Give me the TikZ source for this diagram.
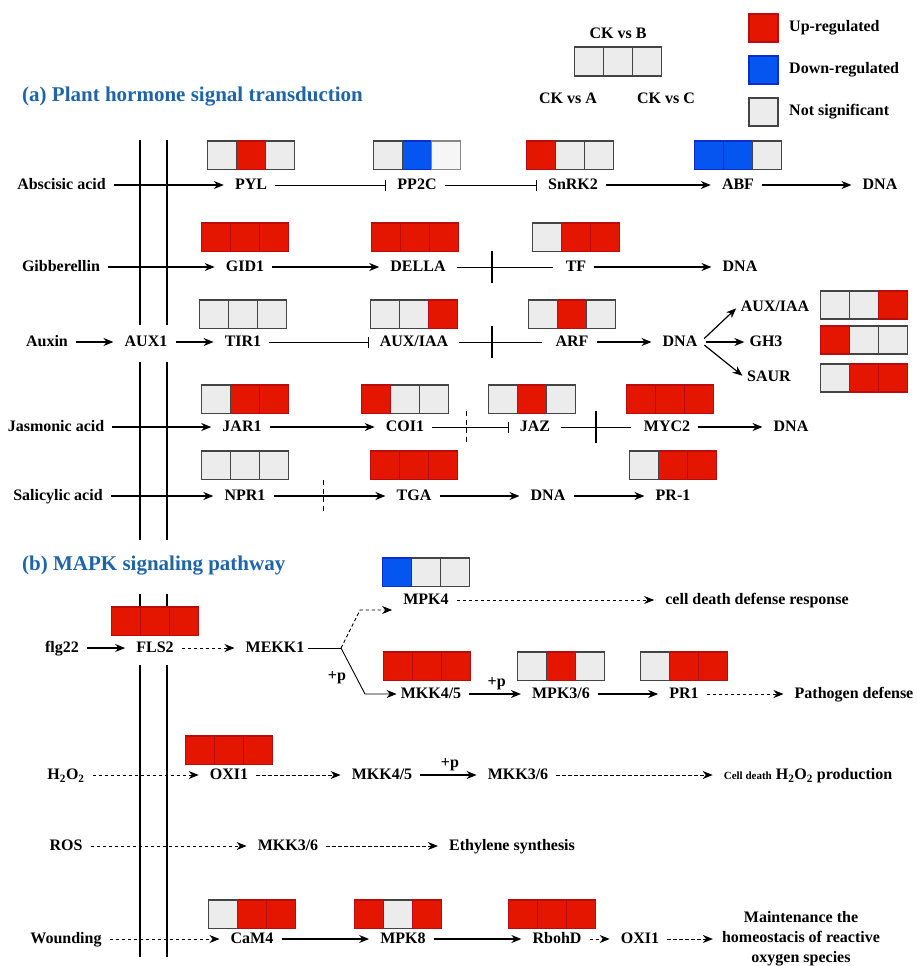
\documentclass[tikz,border=0pt]{standalone}
\usepackage{xcolor}
\usepackage{fontspec}
\setmainfont{Liberation Serif}
\usepackage{tikz}
\usetikzlibrary{arrows,arrows.meta,positioning}

\definecolor{upfill}{RGB}{228,22,0}
\definecolor{upedge}{RGB}{185,12,12}
\definecolor{downfill}{RGB}{5,85,240}
\definecolor{downedge}{RGB}{10,45,205}
\definecolor{nsfill}{RGB}{236,236,236}
\definecolor{nsedge}{RGB}{68,68,68}
\definecolor{palefill}{RGB}{246,246,246}
\definecolor{paleedge}{RGB}{135,135,135}
\definecolor{titleblue}{RGB}{32,100,168}

% three expression cells: name, placement, left, middle, right
\newcommand{\expbox}[5]{%
  \node[cell=#4, #2] (#1-2) {};
  \node[cell=#3, left=0pt of #1-2] (#1-1) {};
  \node[cell=#5, right=0pt of #1-2] (#1-3) {};}

\begin{document}
\begin{tikzpicture}[x=1pt, y=-1pt, >={Stealth[length=10pt,width=8pt]},
    cell/.style={draw=#1edge, fill=#1fill, line width=1.6pt, minimum width=29pt, minimum height=28.5pt, inner sep=0pt, outer sep=0pt}]
                    % Define styles
                    \tikzstyle{gene} = [font=\fontsize{16}{19}\selectfont\bfseries, inner sep=3pt, text height=12pt, text depth=3pt]
                    \tikzstyle{lab} = [font=\fontsize{16}{19}\selectfont\bfseries, inner sep=1pt]
                    \tikzstyle{title} = [anchor=west, inner sep=0pt, font=\fontsize{21}{25}\selectfont\bfseries, text=titleblue]
                    \tikzstyle{line} = [draw, ->, line width=1.2pt, shorten <=5pt, shorten >=8pt]
                    \tikzstyle{dline} = [line, line width=0.9pt, dash pattern=on 3.5pt off 2.5pt]
                    \tikzstyle{inhib} = [draw, -{Bar[width=11pt]}, line width=0.9pt, shorten <=5pt, shorten >=8pt]
                    \tikzstyle{cut} = [draw, line width=0.9pt, shorten <=8pt, shorten >=10pt]
                    \tikzstyle{vbar} = [line width=1.5pt]
                    \tikzstyle{dbar} = [line width=1.5pt, dash pattern=on 5pt off 3.5pt]
                    \tikzstyle{membrane} = [line width=1.8pt]

                    \useasboundingbox (0,0) rectangle (917,966);

                    % Membrane
                    \draw[membrane] (140,140) -- (140,325) (167,140) -- (167,325)
                                    (140,362) -- (140,540) (167,362) -- (167,540);
                    \draw[membrane] (140,594) -- (140,634) (167,594) -- (167,634)
                                    (140,665) -- (140,957) (167,665) -- (167,957);

                    % Legend
                    \expbox{ckb}{at={(618,61.5)}}{ns}{ns}{ns}
                    \node[lab] (ckbl) at (618,33) {CK vs B};
                    \node[lab] (ckal) at (568,98) {CK vs A};
                    \node[lab] (ckcl) at (666,98) {CK vs C};
                    \node[cell=up] (kup) at (763.5,28) {};
                    \node[cell=down] (kdown) at (763.5,70) {};
                    \node[cell=ns] (kns) at (763.5,112) {};
                    \node[lab, anchor=west] at (788,28) {Up-regulated};
                    \node[lab, anchor=west] at (788,70) {Down-regulated};
                    \node[lab, anchor=west] at (788,112) {Not significant};

                    % (a) Plant hormone signal transduction
                    \node[title] (ta) at (22,97) {(a) Plant hormone signal transduction};

                    \node[gene] (aba) at (61.5,185) {Abscisic acid};
                    \node[gene] (pyl) at (251,185) {PYL};
                    \node[gene] (pp2c) at (417,185) {PP2C};
                    \node[gene] (snrk2) at (573,185) {SnRK2};
                    \node[gene] (abf) at (738,185) {ABF};
                    \node[gene] (dna1) at (880,185) {DNA};

                    \node[gene] (ga) at (61,267) {Gibberellin};
                    \node[gene] (gid1) at (245,267) {GID1};
                    \node[gene] (della) at (418,267) {DELLA};
                    \node[gene] (tf) at (576,267) {TF};
                    \node[gene] (dna2) at (740,267) {DNA};

                    \node[gene] (auxin) at (47,342) {Auxin};
                    \node[gene] (aux1) at (146,342) {AUX1};
                    \node[gene] (tir1) at (243,342) {TIR1};
                    \node[gene] (auxiaa) at (414,342) {AUX/IAA};
                    \node[gene] (arf) at (572,342) {ARF};
                    \node[gene] (dna3) at (680,342) {DNA};
                    \node[gene] (auxiaa2) at (775,307) {AUX/IAA};
                    \node[gene] (gh3) at (766,342) {GH3};
                    \node[gene] (saur) at (769,377) {SAUR};

                    \node[gene] (ja) at (56,427) {Jasmonic acid};
                    \node[gene] (jar1) at (242,427) {JAR1};
                    \node[gene] (coi1) at (405,427) {COI1};
                    \node[gene] (jaz) at (535,427) {JAZ};
                    \node[gene] (myc2) at (667,427) {MYC2};
                    \node[gene] (dna4) at (791,427) {DNA};

                    \node[gene] (sa) at (58,496) {Salicylic acid};
                    \node[gene] (npr1) at (245,496) {NPR1};
                    \node[gene] (tga) at (414,496) {TGA};
                    \node[gene] (dna5) at (548,496) {DNA};
                    \node[gene] (pr1a) at (673,496) {PR-1};

                    % Expression boxes (a)
                    \expbox{pylb}{above=5pt of pyl}{ns}{up}{ns}
                    \expbox{pp2cb}{above=5pt of pp2c}{ns}{down}{pale}
                    \expbox{snrk2b}{above=5pt of snrk2, xshift=-3pt}{up}{ns}{ns}
                    \expbox{abfb}{above=5pt of abf}{down}{down}{ns}
                    \expbox{gid1b}{above=5pt of gid1}{up}{up}{up}
                    \expbox{dellab}{above=5pt of della, xshift=-3pt}{up}{up}{up}
                    \expbox{tfb}{above=5pt of tf}{ns}{up}{up}
                    \expbox{tir1b}{above=3pt of tir1}{ns}{ns}{ns}
                    \expbox{auxiaab}{above=3pt of auxiaa}{ns}{ns}{up}
                    \expbox{arfb}{above=3pt of arf}{ns}{up}{ns}
                    \expbox{fana}{at={(864,305)}}{ns}{ns}{up}
                    \expbox{fanb}{at={(864,340)}}{up}{ns}{ns}
                    \expbox{fanc}{at={(864,378)}}{ns}{up}{up}
                    \expbox{jar1b}{above=3pt of jar1, xshift=3pt}{ns}{up}{up}
                    \expbox{coi1b}{above=3pt of coi1}{up}{ns}{ns}
                    \expbox{jazb}{above=3pt of jaz, xshift=-3pt}{ns}{up}{ns}
                    \expbox{myc2b}{above=3pt of myc2, xshift=3pt}{up}{up}{up}
                    \expbox{npr1b}{above=6pt of npr1}{ns}{ns}{ns}
                    \expbox{tgab}{above=6pt of tga}{up}{up}{up}
                    \expbox{pr1ab}{above=6pt of pr1a}{ns}{up}{up}

                    % Arrows (a)
                    \draw [line] (aba) -- (pyl);
                    \draw [inhib] (pyl) -- (pp2c);
                    \draw [inhib] (pp2c) -- (snrk2);
                    \draw [line] (snrk2) -- (abf);
                    \draw [line] (abf) -- (dna1);

                    \draw [line] (ga) -- (gid1);
                    \draw [line] (gid1) -- (della);
                    \draw [cut] (della) -- coordinate[pos=0.38] (cut1) (tf);
                    \draw [vbar] ([yshift=16pt]cut1) -- ([yshift=-16pt]cut1);
                    \draw [line] (tf) -- (dna2);

                    \draw [line] (auxin) -- (aux1);
                    \draw [line] (aux1) -- (tir1);
                    \draw [inhib] (tir1) -- (auxiaa);
                    \draw [cut] (auxiaa) -- coordinate[pos=0.4] (cut2) (arf);
                    \draw [vbar] ([yshift=16pt]cut2) -- ([yshift=-16pt]cut2);
                    \draw [line] (arf) -- (dna3);
                    \draw [line, shorten >=2pt] (dna3.east) -- (auxiaa2.west);
                    \draw [line, shorten >=2pt] (dna3.east) -- (gh3.west);
                    \draw [line, shorten >=2pt] (dna3.east) -- (saur.west);

                    \draw [line] (ja) -- (jar1);
                    \draw [line] (jar1) -- (coi1);
                    \draw [inhib] (coi1) -- coordinate[pos=0.44] (cut3) (jaz);
                    \draw [dbar] ([yshift=16pt]cut3) -- ([yshift=-16pt]cut3);
                    \draw [cut] (jaz) -- coordinate[pos=0.49] (cut4) (myc2);
                    \draw [vbar] ([yshift=16pt]cut4) -- ([yshift=-16pt]cut4);
                    \draw [line] (myc2) -- (dna4);

                    \draw [line] (sa) -- (npr1);
                    \draw [line] (npr1) -- coordinate[pos=0.44] (cut5) (tga);
                    \draw [dbar] ([yshift=16pt]cut5) -- ([yshift=-16pt]cut5);
                    \draw [line] (tga) -- (dna5);
                    \draw [line] (dna5) -- (pr1a);

                    % (b) MAPK signaling pathway
                    \node[title] (tb) at (22,566) {(b) MAPK signaling pathway};

                    \node[gene] (flg22) at (62,648) {flg22};
                    \node[gene] (fls2) at (155,648) {FLS2};
                    \node[gene] (mekk1) at (275,648) {MEKK1};
                    \coordinate (br) at (341,648);
                    \node[gene] (mpk4) at (426,600) {MPK4};
                    \node[gene] (celld) at (757,600) {cell death defense response};
                    \node[gene] (mkk45) at (431,694) {MKK4/5};
                    \node[gene] (mpk36) at (561,694) {MPK3/6};
                    \node[gene] (pr1b) at (684,694) {PR1};
                    \node[gene] (patho) at (854,694) {Pathogen defense};

                    \node[gene] (h2o2) at (66,775) {H\textsubscript{2}O\textsubscript{2}};
                    \node[gene] (oxi1) at (229,775) {OXI1};
                    \node[gene] (mkk45b) at (382,775) {MKK4/5};
                    \node[gene] (mkk36) at (518,775) {MKK3/6};
                    \node[gene] (h2o2prod) at (808,775) {{\fontsize{11}{13}\selectfont Cell death} H\textsubscript{2}O\textsubscript{2} production};

                    \node[gene] (ros) at (66,846) {ROS};
                    \node[gene] (mkk36b) at (288,846) {MKK3/6};
                    \node[gene] (ethy) at (512,846) {Ethylene synthesis};

                    \node[gene] (wound) at (66,939) {Wounding};
                    \node[gene] (cam4) at (252,939) {CaM4};
                    \node[gene] (mpk8) at (403,939) {MPK8};
                    \node[gene] (rbohd) at (557,939) {RbohD};
                    \node[gene] (oxi1b) at (640,939) {OXI1};
                    \node[lab, align=center, font=\fontsize{16}{20}\selectfont\bfseries] (maint) at (801,939) {Maintenance the\\homeostacis of reactive\\oxygen species};

                    % Expression boxes (b)
                    \expbox{fls2b}{above=2pt of fls2}{up}{up}{up}
                    \expbox{mpk4b}{above=3pt of mpk4}{down}{ns}{ns}
                    \expbox{mkk45bx}{above=3pt of mkk45, xshift=-4pt}{up}{up}{up}
                    \expbox{mpk36b}{above=3pt of mpk36}{ns}{up}{ns}
                    \expbox{pr1bb}{above=3pt of pr1b}{ns}{up}{up}
                    \expbox{oxi1bx}{above=0pt of oxi1}{up}{up}{up}
                    \expbox{cam4b}{above=0pt of cam4}{ns}{up}{up}
                    \expbox{mpk8b}{above=0pt of mpk8, xshift=-5pt}{up}{ns}{up}
                    \expbox{rbohdb}{above=0pt of rbohd, xshift=-5pt}{up}{up}{up}

                    % Arrows (b)
                    \draw [line] (flg22) -- (fls2);
                    \draw [dline] (fls2) -- (mekk1);
                    \draw [line width=0.9pt] (mekk1.east) -- (br);
                    \draw [dline, shorten <=0pt] (br) -- ++(19,-38) -- ([yshift=-10pt]mpk4.west);
                    \draw [line, line width=0.9pt, shorten <=0pt, shorten >=1pt] (br) -- ++(24,46) -- (mkk45.west);
                    \node[lab] (p1) at (337,678) {+p};
                    \draw [dline] (mpk4) -- (celld);
                    \draw [line] (mkk45) -- node[lab, above=3pt] (p2) {+p} (mpk36);
                    \draw [line] (mpk36) -- (pr1b);
                    \draw [dline] (pr1b) -- (patho);

                    \draw [dline] (h2o2) -- (oxi1);
                    \draw [dline] (oxi1) -- (mkk45b);
                    \draw [line] (mkk45b) -- node[lab, above=3pt] (p3) {+p} (mkk36);
                    \draw [dline] (mkk36) -- (h2o2prod);

                    \draw [dline] (ros) -- (mkk36b);
                    \draw [dline] (mkk36b) -- (ethy);

                    \draw [dline] (wound) -- (cam4);
                    \draw [line] (cam4) -- (mpk8);
                    \draw [line] (mpk8) -- (rbohd);
                    \draw [dline] (rbohd) -- (oxi1b);
                    \draw [dline] (oxi1b) -- (maint);
                \end{tikzpicture}
\end{document}
